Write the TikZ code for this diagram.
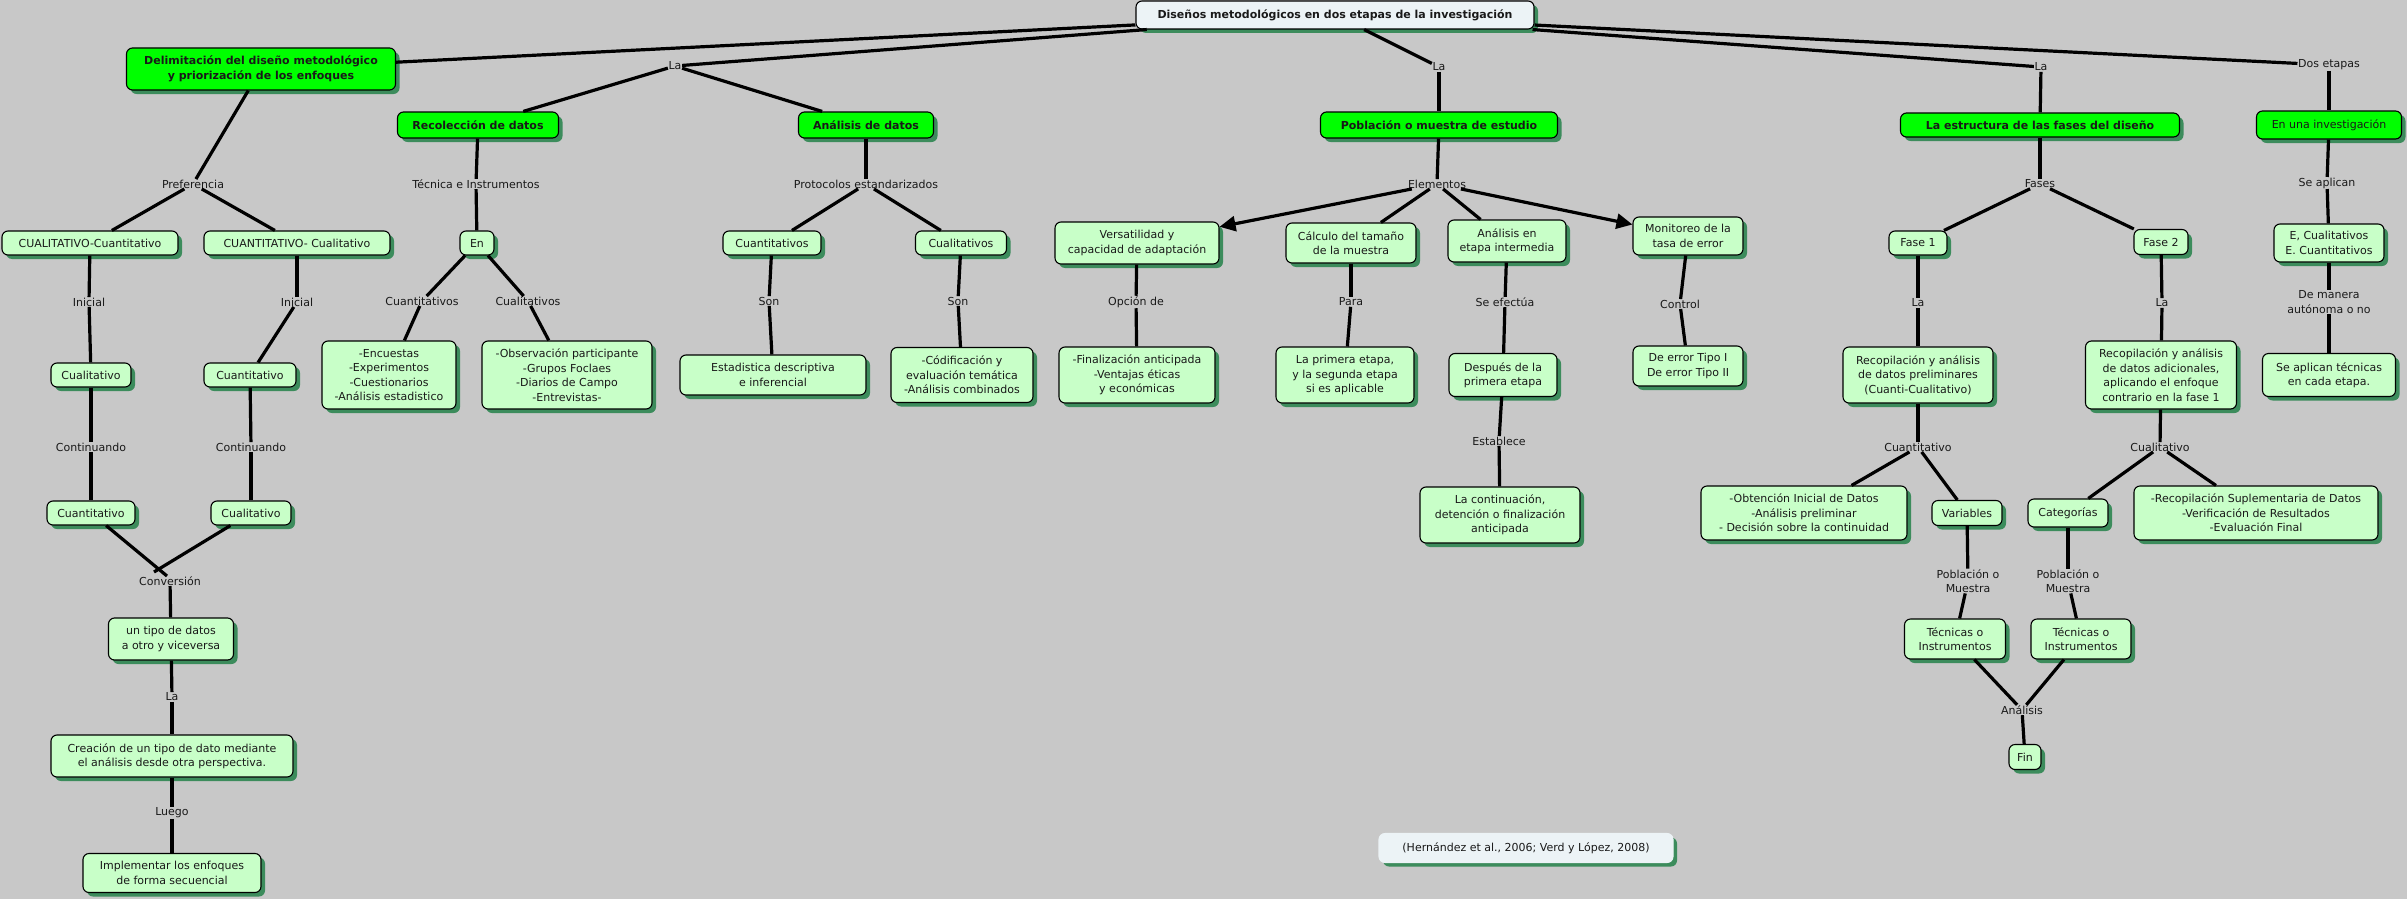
\documentclass[tikz,border=0pt]{standalone}
\usepackage{fontspec}
\setmainfont{DejaVu Sans}
\usetikzlibrary{shadows,arrows.meta}
\definecolor{bgc}{RGB}{200,200,200}
\definecolor{gmain}{RGB}{0,255,0}
\definecolor{glight}{RGB}{200,255,200}
\definecolor{shadowc}{RGB}{60,140,92}
\definecolor{rootc}{RGB}{236,243,246}
\definecolor{txtc}{RGB}{25,25,25}
\newcommand{\fsz}{\fontsize{11}{14.5}\selectfont}
\tikzset{
  basebox/.style={draw=black, line width=1.1pt, rounded corners=6pt, align=center, font=\fsz, text=txtc, inner sep=2pt,
    drop shadow={shadow xshift=4pt, shadow yshift=-4pt, fill=shadowc, opacity=1}},
  lbox/.style={basebox, fill=glight},
  gbox/.style={basebox, fill=gmain, font=\fsz\bfseries},
  gplain/.style={basebox, fill=gmain},
  rbox/.style={basebox, fill=rootc, font=\fsz\bfseries},
  citebox/.style={basebox, draw=rootc, fill=rootc},
  lab/.style={font=\fsz, text=txtc, inner sep=0.5pt, align=center},
  conn/.style={draw=black, line width=3.2pt},
  arr/.style={conn, -{Triangle[length=16pt,width=15pt]}}
}
\begin{document}
\begin{tikzpicture}[x=1pt,y=-1pt]
\fill[bgc] (0,0) rectangle (2407,899);
\useasboundingbox (0,0) rectangle (2407,899);

% ---------- labels ----------
\node[lab] (Lpref) at (193,184) {Preferencia};
\node[lab] (Lini1) at (89,302) {Inicial};
\node[lab] (Lini2) at (297,302) {Inicial};
\node[lab] (Lcont1) at (91,447) {Continuando};
\node[lab] (Lcont2) at (251,447) {Continuando};
\node[lab] (Lconv) at (170,581) {Conversión};
\node[lab] (Lla0) at (172,697) {La};
\node[lab] (Lluego) at (172,813) {Luego};
\node[lab] (Lla1) at (675,66) {La};
\node[lab] (Ltec) at (476,184) {Técnica e Instrumentos};
\node[lab] (Lcuanti) at (422,301) {Cuantitativos};
\node[lab] (Lcuali) at (528,301) {Cualitativos};
\node[lab] (Lproto) at (866,184) {Protocolos estandarizados};
\node[lab] (Lson1) at (769,301) {Son};
\node[lab] (Lson2) at (958,301) {Son};
\node[lab] (Lla2) at (1439,67) {La};
\node[lab] (Lelem) at (1437,184) {Elementos};
\node[lab] (Lopc) at (1136,302) {Opción de};
\node[lab] (Lpara) at (1351,302) {Para};
\node[lab] (Lsefec) at (1505,302) {Se efectúa};
\node[lab] (Lestab) at (1499,441) {Establece};
\node[lab] (Lcontrol) at (1680,304) {Control};
\node[lab] (Lla3) at (2041,67) {La};
\node[lab] (Lfases) at (2040,184) {Fases};
\node[lab] (Lla4) at (1918,303) {La};
\node[lab] (Lla5) at (2162,303) {La};
\node[lab] (Lcuantiv) at (1918,447) {Cuantitativo};
\node[lab] (Lcualiv) at (2160,447) {Cualitativo};
\node[lab] (Lpom1) at (1968,581) {Población o\\Muestra};
\node[lab] (Lpom2) at (2068,581) {Población o\\Muestra};
\node[lab] (Lanal) at (2022,710) {Análisis};
\node[lab] (Ldos) at (2329,65) {Dos etapas};
\node[lab] (Lseap) at (2327,183) {Se aplican};
\node[lab] (Ldman) at (2329,302) {De manera\\autónoma o no};

\coordinate (convL) at (167,576);
\coordinate (convR) at (154,572);

% ---------- boxes ----------
\node[rbox, minimum width=398pt, minimum height=28pt] (root) at (1335,15) {Diseños metodológicos en dos etapas de la investigación};
\node[gbox, minimum width=269pt, minimum height=42pt] (delim) at (261,69) {Delimitación del diseño metodológico\\y priorización de los enfoques};
\node[gbox, minimum width=161pt, minimum height=26pt] (recol) at (478,125) {Recolección de datos};
\node[gbox, minimum width=135pt, minimum height=26pt] (anal) at (866,125) {Análisis de datos};
\node[gbox, minimum width=237pt, minimum height=26pt] (pobl) at (1439,125) {Población o muestra de estudio};
\node[gbox, minimum width=279pt, minimum height=24pt] (estr) at (2040,125) {La estructura de las fases del diseño};
\node[gplain, minimum width=145pt, minimum height=28pt] (enuna) at (2329,125) {En una investigación};
\node[citebox, minimum width=294pt, minimum height=29pt] (cite) at (1526,848) {(Hernández et al., 2006; Verd y López, 2008)};

\node[lbox, minimum width=176pt, minimum height=24pt] (cualcuan) at (90,243) {CUALITATIVO-Cuantitativo};
\node[lbox, minimum width=186pt, minimum height=24pt] (cuancual) at (297,243) {CUANTITATIVO- Cualitativo};
\node[lbox, minimum width=80pt, minimum height=24pt] (cual1) at (91,375) {Cualitativo};
\node[lbox, minimum width=92pt, minimum height=24pt] (cuan1) at (250,375) {Cuantitativo};
\node[lbox, minimum width=88pt, minimum height=24pt] (cuan2) at (91,513) {Cuantitativo};
\node[lbox, minimum width=80pt, minimum height=24pt] (cual2) at (251,513) {Cualitativo};
\node[lbox, minimum width=125pt, minimum height=42pt] (untipo) at (171,639) {un tipo de datos\\a otro y viceversa};
\node[lbox, minimum width=242pt, minimum height=42pt] (creac) at (172,756) {Creación de un tipo de dato mediante\\el análisis desde otra perspectiva.};
\node[lbox, minimum width=178pt, minimum height=39pt] (implem) at (172,873) {Implementar los enfoques\\de forma secuencial};
\node[lbox, minimum width=34pt, minimum height=24pt] (en) at (477,243) {En};
\node[lbox, minimum width=134pt, minimum height=68pt] (encu) at (389,375) {-Encuestas\\-Experimentos\\-Cuestionarios\\-Análisis estadistico};
\node[lbox, minimum width=170pt, minimum height=68pt] (obser) at (567,375) {-Observación participante\\-Grupos Foclaes\\-Diarios de Campo\\-Entrevistas-};
\node[lbox, minimum width=98pt, minimum height=24pt] (cuantis) at (772,243) {Cuantitativos};
\node[lbox, minimum width=91pt, minimum height=24pt] (cualis) at (961,243) {Cualitativos};
\node[lbox, minimum width=186pt, minimum height=40pt] (estad) at (773,375) {Estadistica descriptiva\\e inferencial};
\node[lbox, minimum width=142pt, minimum height=55pt] (codif) at (962,375) {-Códificación y\\evaluación temática\\-Análisis combinados};
\node[lbox, minimum width=164pt, minimum height=42pt] (versa) at (1137,243) {Versatilidad y\\capacidad de adaptación};
\node[lbox, minimum width=130pt, minimum height=40pt] (calc) at (1351,243) {Cálculo del tamaño\\de la muestra};
\node[lbox, minimum width=118pt, minimum height=42pt] (analen) at (1507,241) {Análisis en\\etapa intermedia};
\node[lbox, minimum width=110pt, minimum height=38pt] (monit) at (1688,236) {Monitoreo de la\\tasa de error};
\node[lbox, minimum width=156pt, minimum height=56pt] (final) at (1137,375) {-Finalización anticipada\\-Ventajas éticas\\y económicas};
\node[lbox, minimum width=138pt, minimum height=56pt] (prim) at (1345,375) {La primera etapa,\\y la segunda etapa\\si es aplicable};
\node[lbox, minimum width=108pt, minimum height=43pt] (desp) at (1503,375) {Después de la\\primera etapa};
\node[lbox, minimum width=160pt, minimum height=56pt] (conti) at (1500,515) {La continuación,\\detención o finalización\\anticipada};
\node[lbox, minimum width=110pt, minimum height=40pt] (deerr) at (1688,366) {De error Tipo I\\De error Tipo II};
\node[lbox, minimum width=58pt, minimum height=24pt] (fase1) at (1918,243) {Fase 1};
\node[lbox, minimum width=54pt, minimum height=25pt] (fase2) at (2161,242) {Fase 2};
\node[lbox, minimum width=110pt, minimum height=38pt] (ecual) at (2329,243) {E, Cualitativos\\E. Cuantitativos};
\node[lbox, minimum width=150pt, minimum height=56pt] (recpre) at (1918,375) {Recopilación y análisis\\de datos preliminares\\(Cuanti-Cualitativo)};
\node[lbox, minimum width=151pt, minimum height=68pt] (recadi) at (2161,375) {Recopilación y análisis\\de datos adicionales,\\aplicando el enfoque\\contrario en la fase 1};
\node[lbox, minimum width=133pt, minimum height=43pt] (seaptec) at (2329,375) {Se aplican técnicas\\en cada etapa.};
\node[lbox, minimum width=206pt, minimum height=54pt] (obten) at (1804,513) {-Obtención Inicial de Datos\\-Análisis preliminar\\- Decisión sobre la continuidad};
\node[lbox, minimum width=70pt, minimum height=25pt] (varia) at (1967,513) {Variables};
\node[lbox, minimum width=80pt, minimum height=28pt] (categ) at (2068,513) {Categorías};
\node[lbox, minimum width=244pt, minimum height=54pt] (recsup) at (2256,513) {-Recopilación Suplementaria de Datos\\-Verificación de Resultados\\-Evaluación Final};
\node[lbox, minimum width=101pt, minimum height=40pt] (tec1) at (1955,639) {Técnicas o\\Instrumentos};
\node[lbox, minimum width=100pt, minimum height=40pt] (tec2) at (2081,639) {Técnicas o\\Instrumentos};
\node[lbox, minimum width=32pt, minimum height=25pt] (fin) at (2025,757) {Fin};

% ---------- connectors ----------
\draw[conn] (root) -- (delim);
\draw[conn] (root) -- (Lla1);
\draw[conn] (Lla1) -- (recol);
\draw[conn] (Lla1) -- (anal);
\draw[conn] (root) -- (Lla2);
\draw[conn] (Lla2) -- (pobl);
\draw[conn] (root) -- (Lla3);
\draw[conn] (Lla3) -- (estr);
\draw[conn] (root) -- (Ldos);
\draw[conn] (Ldos) -- (enuna);

\draw[conn] (delim) -- (Lpref);
\draw[conn] (Lpref) -- (cualcuan);
\draw[conn] (Lpref) -- (cuancual);
\draw[conn] (cualcuan) -- (Lini1);
\draw[conn] (Lini1) -- (cual1);
\draw[conn] (cual1) -- (Lcont1);
\draw[conn] (Lcont1) -- (cuan2);
\draw[conn] (cuan2) -- (convL);
\draw[conn] (cuancual) -- (Lini2);
\draw[conn] (Lini2) -- (cuan1);
\draw[conn] (cuan1) -- (Lcont2);
\draw[conn] (Lcont2) -- (cual2);
\draw[conn] (cual2) -- (convR);
\draw[conn] (Lconv) -- (untipo);
\draw[conn] (untipo) -- (Lla0);
\draw[conn] (Lla0) -- (creac);
\draw[conn] (creac) -- (Lluego);
\draw[conn] (Lluego) -- (implem);

\draw[conn] (recol) -- (Ltec);
\draw[conn] (Ltec) -- (en);
\draw[conn] (en) -- (Lcuanti);
\draw[conn] (Lcuanti) -- (encu);
\draw[conn] (en) -- (Lcuali);
\draw[conn] (Lcuali) -- (obser);

\draw[conn] (anal) -- (Lproto);
\draw[conn] (Lproto) -- (cuantis);
\draw[conn] (Lproto) -- (cualis);
\draw[conn] (cuantis) -- (Lson1);
\draw[conn] (Lson1) -- (estad);
\draw[conn] (cualis) -- (Lson2);
\draw[conn] (Lson2) -- (codif);

\draw[conn] (pobl) -- (Lelem);
\draw[arr] (Lelem) -- (versa);
\draw[conn] (Lelem) -- (calc);
\draw[conn] (Lelem) -- (analen);
\draw[arr] (Lelem) -- (monit);
\draw[conn] (versa) -- (Lopc);
\draw[conn] (Lopc) -- (final);
\draw[conn] (calc) -- (Lpara);
\draw[conn] (Lpara) -- (prim);
\draw[conn] (analen) -- (Lsefec);
\draw[conn] (Lsefec) -- (desp);
\draw[conn] (desp) -- (Lestab);
\draw[conn] (Lestab) -- (conti);
\draw[conn] (monit) -- (Lcontrol);
\draw[conn] (Lcontrol) -- (deerr);

\draw[conn] (estr) -- (Lfases);
\draw[conn] (Lfases) -- (fase1);
\draw[conn] (Lfases) -- (fase2);
\draw[conn] (fase1) -- (Lla4);
\draw[conn] (Lla4) -- (recpre);
\draw[conn] (recpre) -- (Lcuantiv);
\draw[conn] (Lcuantiv) -- (obten);
\draw[conn] (Lcuantiv) -- (varia);
\draw[conn] (varia) -- (Lpom1);
\draw[conn] (Lpom1) -- (tec1);
\draw[conn] (tec1) -- (Lanal);
\draw[conn] (fase2) -- (Lla5);
\draw[conn] (Lla5) -- (recadi);
\draw[conn] (recadi) -- (Lcualiv);
\draw[conn] (Lcualiv) -- (categ);
\draw[conn] (Lcualiv) -- (recsup);
\draw[conn] (categ) -- (Lpom2);
\draw[conn] (Lpom2) -- (tec2);
\draw[conn] (tec2) -- (Lanal);
\draw[conn] (Lanal) -- (fin);

\draw[conn] (enuna) -- (Lseap);
\draw[conn] (Lseap) -- (ecual);
\draw[conn] (ecual) -- (Ldman);
\draw[conn] (Ldman) -- (seaptec);
\end{tikzpicture}
\end{document}
